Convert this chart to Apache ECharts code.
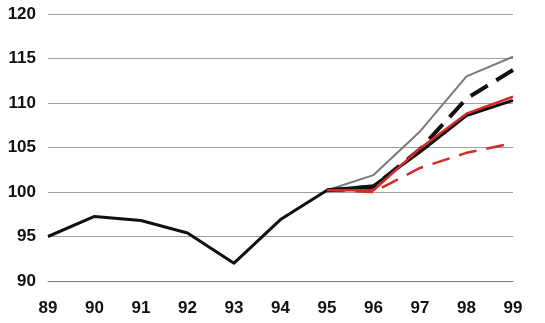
<!DOCTYPE html>
<html><head><meta charset="utf-8">
<script src="https://cdn.jsdelivr.net/npm/echarts@6/dist/echarts.min.js"></script>
<style>html,body{margin:0;padding:0;background:#fff}#c{width:545px;height:323px}</style>
</head><body><div id="c"></div>
<script>
const years = ['89','90','91','92','93','94','95','96','97','98','99'];
const yTicks = [90,95,100,105,110,115,120];
const history = [95.0,97.25,96.8,95.4,92.0,96.9,100.2,100.7,104.5,108.6,110.3];
const grayHigh = [null,null,null,null,null,null,100.2,101.9,106.8,113.0,115.2];
const blackDashed = [null,null,null,null,null,null,100.2,100.6,104.8,110.5,113.7];
const redSolid = [null,null,null,null,null,null,100.2,100.2,104.9,108.8,110.7];
const redDashed = [null,null,null,null,null,null,100.2,100.0,102.7,104.4,105.5];

const chart = echarts.init(document.getElementById('c'), null, {renderer:'canvas'});
const font = 'Liberation Sans, Arial, sans-serif';
function line(data, color, width, type, z){
  return {type:'line', data, symbol:'none', z, lineStyle:{color, width, type, cap:'butt', join:'round'}, animation:false};
}
chart.setOption({
  animation:false,
  grid:{left:48, right:32, top:14, bottom:42, containLabel:false},
  xAxis:{type:'category', data:years, boundaryGap:false,
    axisLine:{show:true, lineStyle:{color:'#777', width:1}},
    axisTick:{show:false},
    axisLabel:{color:'#111', fontFamily:font, fontWeight:'bold', fontSize:17, margin:19},
    splitLine:{show:false}},
  yAxis:{type:'value', min:yTicks[0], max:yTicks[yTicks.length-1], interval:5,
    axisLine:{show:false}, axisTick:{show:false},
    axisLabel:{color:'#111', fontFamily:font, fontWeight:'bold', fontSize:17, margin:12},
    splitLine:{show:true, lineStyle:{color:'#a0a0a0', width:1}}},
  series:[
    line(grayHigh,'#7a7a7a',2,'solid',2),
    line(redDashed,'#d42a2a',2.5,[18,10],3),
    line(blackDashed,'#111111',4,[20,10],4),
    line(history,'#111111',3,'solid',5),
    line(redSolid,'#d42a2a',2.5,'solid',6)
  ]
});
</script></body></html>
